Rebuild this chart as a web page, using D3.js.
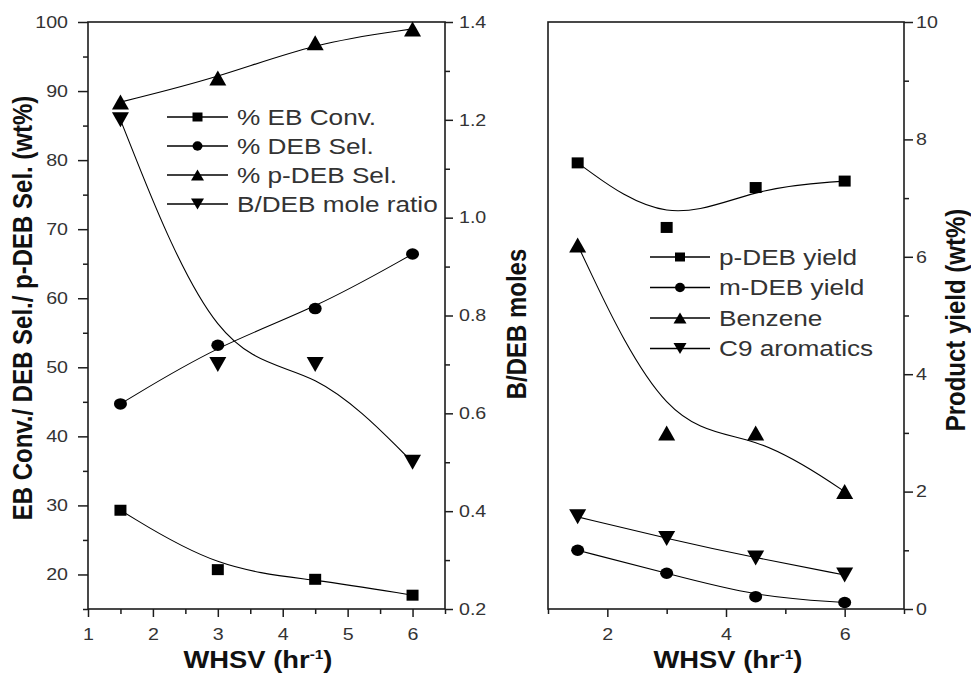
<!DOCTYPE html>
<html>
<head>
<meta charset="utf-8">
<script src="https://cdn.jsdelivr.net/npm/d3@7"></script>
<style>
  html, body { margin: 0; padding: 0; background: #fff; }
  svg text { font-family: "Liberation Sans", Arial, Helvetica, sans-serif; }
</style>
</head>
<body>
<svg id="chart" width="971" height="674"></svg>
<script>
// WHSV values shared by both panels
const whsv = [1.5, 3, 4.5, 6];

// Left panel: conversion / selectivity (wt%) and B/DEB mole ratio
const ebConv    = [29.3, 20.7, 19.3, 17.0];
const debSel    = [44.7, 53.2, 58.5, 66.4];
const pDebSel   = [88.4, 91.9, 97.0, 99.0];
const bDebRatio = [1.2, 0.7, 0.7, 0.5];

// Right panel: product yields (wt%)
const pDebYield   = [7.6, 6.5, 7.18, 7.29];
const mDebYield   = [1.0, 0.61, 0.21, 0.11];
const benzene     = [6.2, 3.0, 3.0, 2.0];
const c9Aromatics = [1.57, 1.2, 0.87, 0.58];

// Tick values
const pctTicks      = [20, 30, 40, 50, 60, 70, 80, 90, 100];
const pctMinor      = [15, 25, 35, 45, 55, 65, 75, 85, 95];
const ratioTicks    = [0.2, 0.4, 0.6, 0.8, 1.0, 1.2, 1.4];
const ratioMinor    = [0.3, 0.5, 0.7, 0.9, 1.1, 1.3];
const xTicksLeft    = [1, 2, 3, 4, 5, 6];
const xMinorLeft    = [1.5, 2.5, 3.5, 4.5, 5.5, 6.5];
const yieldTicks    = [0, 2, 4, 6, 8, 10];
const yieldMinor    = [1, 3, 5, 7, 9];
const xTicksRight   = [2, 4, 6];
const xMinorRight   = [1, 3, 5, 7];

// Legend labels
const leftLabels  = ["% EB Conv.", "% DEB Sel.", "% p-DEB Sel.", "B/DEB mole ratio"];
const rightLabels = ["p-DEB yield", "m-DEB yield", "Benzene", "C9 aromatics"];
const symbolTypes = ["square", "circle", "up", "down"];

const svg = d3.select("#chart");
const INK = "#1c1c1c";
const LABEL_INK = "#333";
const STRETCH = 1.19;

function widen(sel, origin) {
  sel.style("transform-box", "fill-box")
     .style("transform-origin", origin)
     .style("transform", `scaleX(${STRETCH})`);
}

function symbolPath(type, w, h) {
  switch (type) {
    case "square": return `M${-w/2},${-h/2}h${w}v${h}h${-w}Z`;
    case "circle": return `M${-w/2},0a${w/2},${h/2} 0 1,0 ${w},0a${w/2},${h/2} 0 1,0 ${-w},0Z`;
    case "up":     return `M0,${-h/2}L${w/2},${h/2}L${-w/2},${h/2}Z`;
    case "down":   return `M0,${h/2}L${w/2},${-h/2}L${-w/2},${-h/2}Z`;
  }
}
const plotSize = { square: [12, 11], circle: [13, 11.5], up: [17, 15], down: [17, 15] };
const legendSize = { square: [10, 9], circle: [10, 9.5], up: [13, 11], down: [13, 11] };

// Scales
const xL  = d3.scaleLinear().domain([1, 6.5]).range([88, 445]);
const yL  = d3.scaleLinear().domain([15, 100]).range([609, 22]);
const yLR = d3.scaleLinear().domain([0.2, 1.4]).range([609, 22]);
const xR  = d3.scaleLinear().domain([1, 7]).range([548, 904]);
const yR  = d3.scaleLinear().domain([0, 10]).range([609, 22]);

function styleAxis(g) {
  g.select(".domain").remove();
  g.selectAll(".tick line").attr("stroke", INK).attr("stroke-width", 1.5);
  g.selectAll(".tick text").attr("fill", LABEL_INK).style("font-size", "16.5px");
}

function addAxis(axisFn, scale, translate, ticks, minor, size, minorSize, pad, fmt, origin) {
  const g = svg.append("g").attr("transform", translate)
    .call(axisFn(scale).tickValues(ticks).tickSize(size).tickPadding(pad).tickFormat(fmt));
  styleAxis(g);
  g.selectAll(".tick text").call(widen, origin);
  const gm = svg.append("g").attr("transform", translate)
    .call(axisFn(scale).tickValues(minor).tickSize(minorSize).tickFormat(""));
  styleAxis(gm);
}

// Left panel axes
addAxis(d3.axisLeft, yL, "translate(88,0)", pctTicks, pctMinor, 10, 5, 10, d3.format("d"), "100% 50%");
addAxis(d3.axisRight, yLR, "translate(445,0)", ratioTicks, ratioMinor, 8, 5, 6, d3.format(".1f"), "0% 50%");
addAxis(d3.axisBottom, xL, "translate(0,609)", xTicksLeft, xMinorLeft, 8, 5, 11, d3.format("d"), "50% 50%");
// Right panel axes
addAxis(d3.axisRight, yR, "translate(904,0)", yieldTicks, yieldMinor, 9, 5, 3, d3.format("d"), "0% 50%");
addAxis(d3.axisBottom, xR, "translate(0,609)", xTicksRight, xMinorRight, 8, 5, 11, d3.format("d"), "50% 50%");

// Frames
[[xL, yL], [xR, yR]].forEach(([x, y]) => {
  svg.append("rect")
    .attr("x", x.range()[0]).attr("y", y.range()[1])
    .attr("width", x.range()[1] - x.range()[0])
    .attr("height", y.range()[0] - y.range()[1])
    .attr("fill", "none").attr("stroke", INK).attr("stroke-width", 1.6);
});

// Series
function drawSeries(values, x, y, type) {
  const pts = whsv.map((w, i) => [w, values[i]]);
  const line = d3.line().curve(d3.curveBasis).x(d => x(d[0])).y(d => y(d[1]));
  svg.append("path").datum(pts).attr("d", line)
    .attr("fill", "none").attr("stroke", "#000").attr("stroke-width", 1.1);
  const [w, h] = plotSize[type];
  svg.append("g").selectAll("path").data(pts).join("path")
    .attr("transform", d => `translate(${x(d[0])},${y(d[1])})`)
    .attr("d", symbolPath(type, w, h)).attr("fill", "#000");
}

drawSeries(ebConv, xL, yL, "square");
drawSeries(debSel, xL, yL, "circle");
drawSeries(pDebSel, xL, yL, "up");
drawSeries(bDebRatio, xL, yLR, "down");

drawSeries(pDebYield, xR, yR, "square");
drawSeries(mDebYield, xR, yR, "circle");
drawSeries(benzene, xR, yR, "up");
drawSeries(c9Aromatics, xR, yR, "down");

// Legends
function drawLegend(labels, x1, x2, textX, y0, step) {
  const g = svg.append("g");
  labels.forEach((label, i) => {
    const y = y0 + i * step;
    const type = symbolTypes[i];
    g.append("line").attr("x1", x1).attr("x2", x2).attr("y1", y).attr("y2", y)
      .attr("stroke", "#000").attr("stroke-width", 1.3);
    const [w, h] = legendSize[type];
    g.append("path").attr("transform", `translate(${(x1 + x2) / 2},${y})`)
      .attr("d", symbolPath(type, w, h)).attr("fill", "#000");
    g.append("text").attr("x", textX).attr("y", y).attr("dy", "0.36em")
      .attr("fill", LABEL_INK).style("font-size", "22px").text(label)
      .call(widen, "0% 50%");
  });
}
drawLegend(leftLabels, 167, 228, 237, 117, 29);
drawLegend(rightLabels, 650, 710, 719, 257, 30.5);

// X axis titles
function xTitle(cx) {
  const t = svg.append("text").attr("x", cx).attr("y", 668)
    .attr("text-anchor", "middle").attr("fill", "#111")
    .style("font-size", "23px").style("font-weight", "bold");
  t.append("tspan").text("WHSV (hr");
  t.append("tspan").attr("dy", -9).style("font-size", "13px").text("-1");
  t.append("tspan").attr("dy", 9).text(")");
  t.call(widen, "50% 50%");
}
xTitle(258);
xTitle(728);

// Y axis titles (rotated)
function yTitle(x, y, label) {
  svg.append("text")
    .attr("transform", `translate(${x},${y}) scale(${STRETCH},1) rotate(-90)`)
    .attr("text-anchor", "middle").attr("fill", "#111")
    .style("font-size", "24px").style("font-weight", "bold")
    .text(label);
}
yTitle(32, 308, "EB Conv./ DEB Sel./ p-DEB Sel. (wt%)");
yTitle(526, 324, "B/DEB moles");
yTitle(965, 320, "Product yield (wt%)");
</script>
</body>
</html>
